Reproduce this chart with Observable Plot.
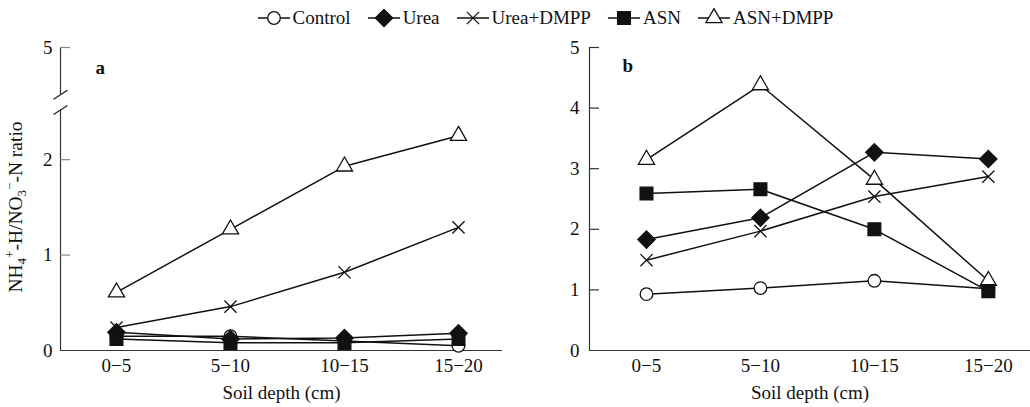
<!DOCTYPE html>
<html>
<head>
<meta charset="utf-8">
<script src="https://cdn.jsdelivr.net/npm/d3@7"></script>
<script src="https://cdn.jsdelivr.net/npm/@observablehq/plot@0.6"></script>
<style>
  html, body { margin: 0; padding: 0; background: #fff; }
  body { width: 1030px; height: 407px; overflow: hidden; font-family: "Liberation Serif", "Times New Roman", serif; }
  #legend { height: 36px; display: flex; align-items: center; justify-content: center; padding-left: 60px; box-sizing: border-box; gap: 16px; font-size: 19px; color: #111; }
  .item { display: flex; align-items: center; gap: 2px; }
  #panels { display: flex; }
</style>
</head>
<body>
<div id="legend"></div>
<div id="panels"></div>
<script>
// ---- data ----
const depths = ["0−5", "5−10", "10−15", "15−20"];
const seriesNames = ["Control", "Urea", "Urea+DMPP", "ASN", "ASN+DMPP"];

// panel a
const a_Control   = [0.15, 0.15, 0.10, 0.05];
const a_Urea      = [0.19, 0.12, 0.13, 0.18];
const a_UreaDMPP  = [0.24, 0.46, 0.82, 1.29];
const a_ASN       = [0.12, 0.08, 0.08, 0.12];
const a_ASNDMPP   = [0.61, 1.27, 1.93, 2.25];

// panel b
const b_Control   = [0.93, 1.03, 1.15, 1.02];
const b_Urea      = [1.83, 2.19, 3.27, 3.16];
const b_UreaDMPP  = [1.49, 1.97, 2.54, 2.87];
const b_ASN       = [2.59, 2.66, 2.00, 0.98];
const b_ASNDMPP   = [3.15, 4.38, 2.82, 1.15];

const yTicksA = [0, 1, 2, 5];
const yTicksB = [0, 1, 2, 3, 4, 5];
const breakA = [2.52, 2.68];  // axis break (display units)
const topA = 3.175;           // display position of tick "5" in panel a

// ---- styles ----
const FONT = "Liberation Serif, Times New Roman, serif";
const symStyle = {
  "Control":   {symbol: "circle",   r: 6.3, fill: "white", stroke: "#111"},
  "Urea":      {symbol: "diamond2", r: 7.8, fill: "#111",  stroke: "#111"},
  "Urea+DMPP": {symbol: "times",    r: 5.6, fill: "none",  stroke: "#111"},
  "ASN":       {symbol: "square",   r: 7.2, fill: "#111",  stroke: "#111"},
  "ASN+DMPP":  {symbol: "triangle", r: 6.0, fill: "white", stroke: "#111"}
};

function rowsOf(arrs) {
  const rows = [];
  seriesNames.forEach((s, k) => arrs[k].forEach((v, i) => rows.push({series: s, i, v})));
  return rows;
}
const rowsA = rowsOf([a_Control, a_Urea, a_UreaDMPP, a_ASN, a_ASNDMPP]);
const rowsB = rowsOf([b_Control, b_Urea, b_UreaDMPP, b_ASN, b_ASNDMPP]);

const slash = {draw(ctx, size) { const r = Math.sqrt(size / Math.PI); ctx.moveTo(-r, r * 0.65); ctx.lineTo(r, -r * 0.65); }};

function panel({rows, width, marginLeft, marginRight, xDomain, yDomain, ticks, tickPos, tickLabel, axisSegs, breaks, tickColor, tickPadding, letter, letterDx, letterDy}) {
  const innerW = width - marginLeft - marginRight;
  const marks = [];
  marks.push(Plot.ruleY([0], {stroke: "#333", strokeWidth: 1.2}));
  axisSegs.forEach(([y1, y2]) => marks.push(Plot.ruleX([xDomain[0]], {y1, y2, stroke: "#333", strokeWidth: 1.2})));
  if (breaks) marks.push(Plot.dot(breaks, {x: () => xDomain[0], y: d => d, symbol: slash, r: 7, stroke: "#222", strokeWidth: 1.3}));
  marks.push(Plot.tickY(ticks.filter(t => t !== 0).map(tickPos), {y: d => d, stroke: tickColor, strokeWidth: 1.2, insetRight: innerW - 10}));
  marks.push(Plot.axisY({ticks: ticks.map(tickPos), tickSize: 0, tickPadding, tickFormat: tickLabel, fontSize: 19, label: null}));
  marks.push(Plot.axisX({ticks: [0, 1, 2, 3], tickSize: 0, tickPadding: 8, tickFormat: i => depths[i], fontSize: 19, label: null}));
  marks.push(Plot.text(["Soil depth (cm)"], {frameAnchor: "bottom", dy: 42, lineAnchor: "middle", fontSize: 19, fill: "#111"}));
  marks.push(Plot.text([letter], {frameAnchor: "top-left", dx: letterDx, dy: letterDy, lineAnchor: "middle", fontSize: 19, fontWeight: "bold", fill: "#111"}));
  marks.push(Plot.line(rows, {x: "i", y: "v", z: "series", stroke: "#111", strokeWidth: 1.5}));
  ["Control", "ASN+DMPP", "Urea+DMPP", "Urea", "ASN"].forEach(s => {
    const st = symStyle[s];
    marks.push(Plot.dot(rows.filter(d => d.series === s), {x: "i", y: "v", symbol: st.symbol, r: st.r, fill: st.fill, stroke: st.stroke, strokeWidth: 1.3}));
  });
  return Plot.plot({
    width, height: 371, marginLeft, marginRight, marginTop: 11, marginBottom: 57,
    style: {fontFamily: FONT, color: "#111", background: "white", overflow: "visible"},
    x: {type: "linear", domain: xDomain},
    y: {type: "linear", domain: yDomain},
    marks
  });
}

const posA = t => (t === 5 ? topA : t);
const svgA = panel({
  rows: rowsA, width: 515, marginLeft: 60, marginRight: 13,
  xDomain: [-0.491, 3.386], yDomain: [0, topA],
  ticks: yTicksA, tickPos: posA, tickLabel: p => (p === topA ? "5" : String(p)),
  axisSegs: [[0, breakA[0]], [breakA[1], topA]], breaks: breakA,
  tickColor: "#888", tickPadding: 8, letter: "a", letterDx: 35, letterDy: 20
});
const svgB = panel({
  rows: rowsB, width: 515, marginLeft: 74, marginRight: 0,
  xDomain: [-0.5, 3.37], yDomain: [0, 5],
  ticks: yTicksB, tickPos: t => t, tickLabel: p => String(p),
  axisSegs: [[0, 5]], breaks: null,
  tickColor: "#333", tickPadding: 10, letter: "b", letterDx: 33, letterDy: 18
});

// y-axis title with sub/superscripts
const yl = d3.select(svgA).append("text")
  .attr("transform", "translate(22,171) rotate(-90)")
  .attr("text-anchor", "middle")
  .attr("font-family", FONT)
  .attr("font-size", 19.5).attr("fill", "#111");
yl.append("tspan").text("NH");
yl.append("tspan").attr("font-size", 13).attr("dy", 4).text("4");
yl.append("tspan").attr("font-size", 13).attr("dy", -12).text("+");
yl.append("tspan").attr("dy", 8).text("-H/NO");
yl.append("tspan").attr("font-size", 13).attr("dy", 4).text("3");
yl.append("tspan").attr("font-size", 13).attr("dy", -12).text("−");
yl.append("tspan").attr("dy", 8).text("-N ratio");

document.getElementById("panels").append(svgA, svgB);

// legend
const legend = d3.select("#legend");
const symMap = {circle: d3.symbolCircle, diamond2: d3.symbolDiamond2, times: d3.symbolTimes, square: d3.symbolSquare, triangle: d3.symbolTriangle};
seriesNames.forEach(s => {
  const st = symStyle[s];
  const item = legend.append("div").attr("class", "item");
  const sv = item.append("svg").attr("width", 34).attr("height", 20);
  sv.append("line").attr("x1", 1).attr("x2", 33).attr("y1", 10).attr("y2", 10).attr("stroke", "#111").attr("stroke-width", 1.5);
  sv.append("path").attr("transform", "translate(17,10)")
    .attr("d", d3.symbol(symMap[st.symbol], st.r * st.r * Math.PI)())
    .attr("fill", st.fill).attr("stroke", st.stroke).attr("stroke-width", 1.3);
  item.append("span").text(s);
});
</script>
</body>
</html>
